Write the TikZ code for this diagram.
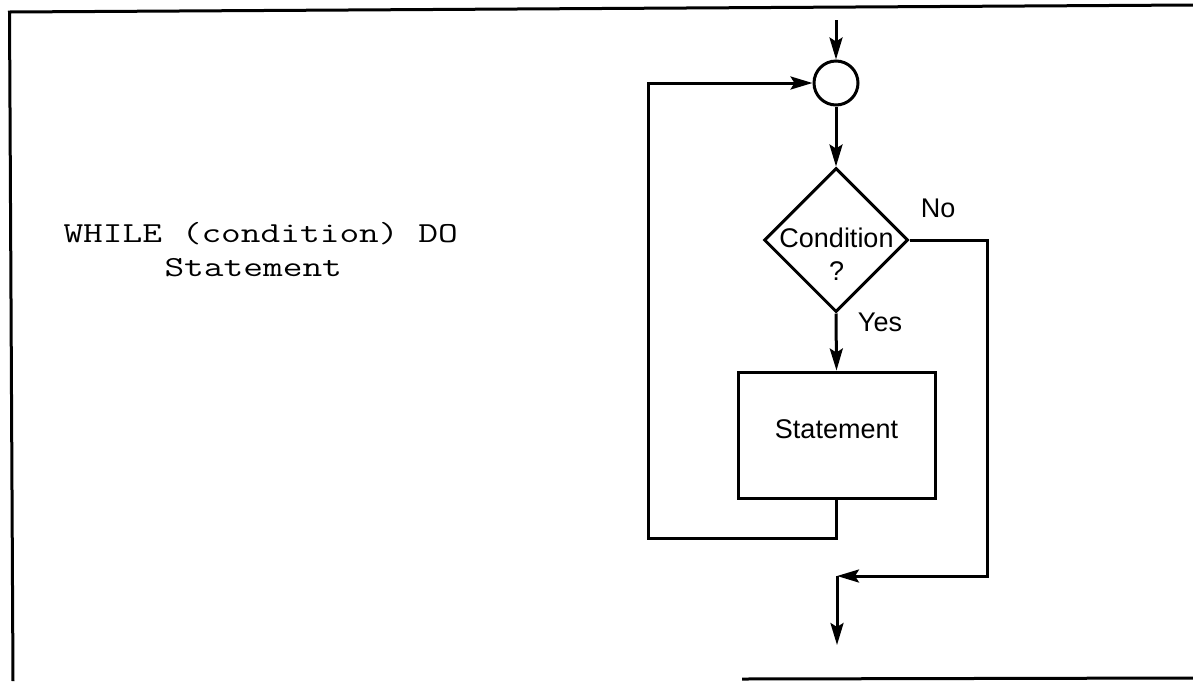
\documentclass[tikz,border=0pt]{standalone}
\usepackage{fontspec}
\usepackage{graphicx}
\setmainfont{Liberation Sans}
\newcommand{\widecode}[1]{\scalebox{1.32}[1]{\ttfamily\fontsize{29}{34}\selectfont #1}}
\usetikzlibrary{arrows.meta,shapes.geometric}
\begin{document}
\begin{tikzpicture}[x=1pt,y=-1pt,line width=3pt,
  flow/.style={-{Stealth[length=22pt,width=13pt,inset=4pt]}},
  lbl/.style={font=\fontsize{27}{33}\selectfont,inner sep=0pt},
  code/.style={inner sep=0pt,anchor=base west},
  junction/.style={circle,draw,minimum size=44pt,inner sep=0pt},
  decision/.style={diamond,draw,minimum width=144pt,minimum height=144pt,inner sep=0pt},
  stepbox/.style={rectangle,draw,minimum width=197pt,minimum height=126pt,
    font=\fontsize{27}{33}\selectfont,text height=19.4pt,text depth=12pt,inner sep=0pt}]
\useasboundingbox (0,0) rectangle (1193,681);

% page frame
\draw (13,681) -- (9.5,12) -- (1193,5);
\draw (742,679) -- (1193,678);

% pseudo-code
\node[code] (codeA) at (62,242) {\widecode{WHILE (condition) DO}};
\node[code] (codeB) at (163,276) {\widecode{Statement}};

% flowchart
\coordinate (entry) at (836,20);
\node[junction] (junc) at (836,83) {};
\node[decision] (cond) at (836,240) {};
\node[lbl,align=center] (condtext) at (836.5,254) {Condition\\?};
\node[stepbox] (stmt) at (836.5,435) {Statement};
\coordinate (loopcorner) at (648,538);
\coordinate (nocorner) at (987,576);
\coordinate (merge) at (837,576);
\coordinate (exit) at (837,645);

\node[lbl,anchor=base] (nolbl) at (938,217) {No};
\node[lbl,anchor=base] (yeslbl) at (880,331) {Yes};

\draw[flow] (entry) -- (junc.north);
\draw[flow] (junc.south) -- (cond.north);
\draw[flow] (cond.south) -- (stmt.north);
\draw[flow] (stmt.south) |- (loopcorner) |- (junc.west);
\draw[flow] (cond.east) -| (nocorner) -- (merge);
\draw[flow] (merge) -- (exit);
\end{tikzpicture}
\end{document}
